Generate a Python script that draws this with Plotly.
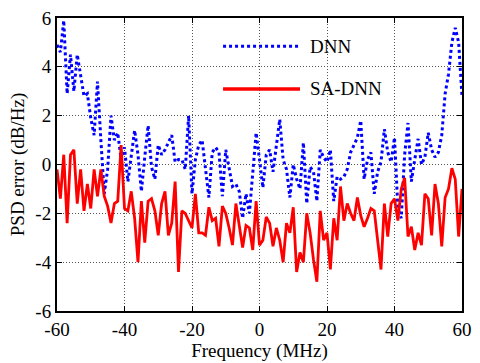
import numpy as np
import plotly.graph_objects as go

# ---- data -------------------------------------------------------------
freq_mhz = list(range(-60, 61))  # 1 MHz grid, -60 .. 60

dnn_err = [
    4.9, 4.6, 5.9, 2.9, 4.5, 3.0, 4.5, 3.7, 2.8, 2.9,      # -60..-51
    1.9, 1.2, 3.4, 1.0, -1.2, -0.2, 2.0, 1.0, 1.3, 0.2,    # -50..-41
    0.7, -0.7, 0.3, 1.4, 0.4, -1.1, 0.3, 1.6, -0.1, -0.6,  # -40..-31
    0.8, 0.4, 0.6, 0.9, 1.2, 0.1, 0.2, 0.2, -0.2, 2.0,     # -30..-21
    -1.2, 0.2, 0.8, 1.0, -0.3, -1.35, 0.5, 0.7, 0.5, -1.3, # -20..-11
    0.6, -0.1, -0.9, -0.8, -1.1, -2.2, -1.2, -2.0, -0.2, 1.3,  # -10..-1
    0.2,                                                   # 0
    -0.95, 0.4, 0.6, -0.3, 0.8, 1.85, 0.2, -0.2, -1.35, 0.0,   # 1..10
    -0.6, -1.0, 0.9, -1.6, -0.1, -0.3, -1.5, 0.6, 0.3, 0.1,    # 11..20
    0.6, -1.5, -0.5, -0.6, -0.5, -0.2, 0.5, 0.8, 1.1, 1.8,     # 21..30
    -0.6, 0.2, 0.5, -1.2, -0.3, 0.1, 1.45, 0.5, 0.1, 1.1,      # 31..40
    -1.8, -2.2, 0.4, 1.7, -0.7, 0.2, 1.05, 0.0, 0.3, 1.3,      # 41..50
    0.6, 0.3, 0.5, 1.2, 2.9, 3.7, 5.0, 5.6, 5.0, 2.8,          # 51..60
]

sa_dnn_err = [
    -0.2, -1.4, 0.4, -2.4, 0.4, 0.6, -1.6, -0.2, -1.9, -0.8,   # -60..-51
    -1.8, -0.2, -1.3, -0.2, -1.3, -1.7, -2.4, -1.6, -1.5, 0.8, # -50..-41
    -1.8, -1.9, -1.1, -2.2, -4.0, -1.5, -3.2, -1.5, -1.4, -1.9,  # -40..-31
    -2.9, -1.6, -1.1, -2.9, -2.4, -0.7, -4.4, -1.9, -2.0, -2.3,  # -30..-21
    -2.6, -1.2, -2.8, -2.8, -2.9, -1.75, -2.3, -2.2, -3.35, -1.7,  # -20..-11
    -2.0, -2.6, -3.3, -1.6, -2.5, -3.4, -2.5, -2.6, -3.5, -1.5,  # -10..-1
    -3.3,                                                      # 0
    -3.1, -2.15, -2.4, -3.35, -2.6, -3.1, -4.0, -2.4, -2.8, -1.75,  # 1..10
    -4.4, -3.6, -4.0, -2.0, -2.8, -3.9, -4.8, -1.9, -3.1, -2.8,     # 11..20
    -4.3, -2.2, -3.1, -0.9, -2.3, -1.6, -2.0, -2.3, -1.35, -2.1,    # 21..30
    -2.55, -2.2, -1.8, -1.9, -3.1, -4.3, -1.6, -2.95, -1.6, -1.4,   # 31..40
    -2.3, -1.0, -0.55, -2.95, -2.55, -3.5, -2.8, -3.3, -1.2, -1.4,  # 41..50
    -2.9, -0.8, -1.6, -3.35, -1.35, -1.0, -0.15, -0.6, -2.95, -1.0, # 51..60
]

series_names = ["DNN", "SA-DNN"]
series_colors = ["#0000FF", "#FF0000"]

x_tick_vals = [-60, -40, -20, 0, 20, 40, 60]
x_tick_text = ["-60", "-40", "-20", "0", "20", "40", "60"]
y_tick_vals = [-6, -4, -2, 0, 2, 4, 6]
y_tick_text = ["-6", "-4", "-2", "0", "2", "4", "6"]

assert len(freq_mhz) == len(dnn_err) == len(sa_dnn_err)

# ---- figure -----------------------------------------------------------
FONT = "Liberation Serif, Times New Roman, serif"

fig = go.Figure()
fig.add_trace(go.Scatter(x=freq_mhz, y=dnn_err, mode="lines", name=series_names[0],
                         line=dict(color=series_colors[0], width=3, dash="dot"),
                         showlegend=False))
fig.add_trace(go.Scatter(x=freq_mhz, y=sa_dnn_err, mode="lines", name=series_names[1],
                         line=dict(color=series_colors[1], width=2.8),
                         showlegend=False))

axis_common = dict(
    showline=True, linecolor="black", linewidth=2, mirror="ticks",
    ticks="inside", ticklen=5, tickwidth=1, tickcolor="black",
    showgrid=True, gridcolor="#555555", gridwidth=1, griddash="1px,2px",
    zeroline=False, tickfont=dict(family=FONT, size=19, color="black"),
    title_font=dict(family=FONT, size=19, color="black"),
)

fig.update_xaxes(range=[-60, 60], tickvals=x_tick_vals, ticktext=x_tick_text,
                 title_text="Frequency (MHz)", title_standoff=2, **axis_common)
fig.update_yaxes(range=[-6, 6], tickvals=y_tick_vals, ticktext=y_tick_text,
                 title_text="PSD error (dB/Hz)", title_standoff=6, **axis_common)

# manual legend (long sample lines as in the original)
legend_rows = [0.904, 0.758]
for name, color, yy, dash, w in zip(series_names, series_colors, legend_rows,
                                    ["dot", "solid"], [3, 3.5]):
    fig.add_shape(type="line", xref="paper", yref="paper",
                  x0=0.41, x1=0.60, y0=yy, y1=yy,
                  line=dict(color=color, width=w, dash=dash))
    fig.add_annotation(xref="paper", yref="paper", x=0.62, y=yy, text=name,
                       showarrow=False, xanchor="left", yanchor="middle",
                       font=dict(family=FONT, size=19, color="black"))

fig.update_layout(
    width=480, height=363,
    margin=dict(l=57, r=8, t=15, b=46),
    plot_bgcolor="white", paper_bgcolor="white",
    font=dict(family=FONT, size=19, color="black"),
)

fig.write_html("out.html")
